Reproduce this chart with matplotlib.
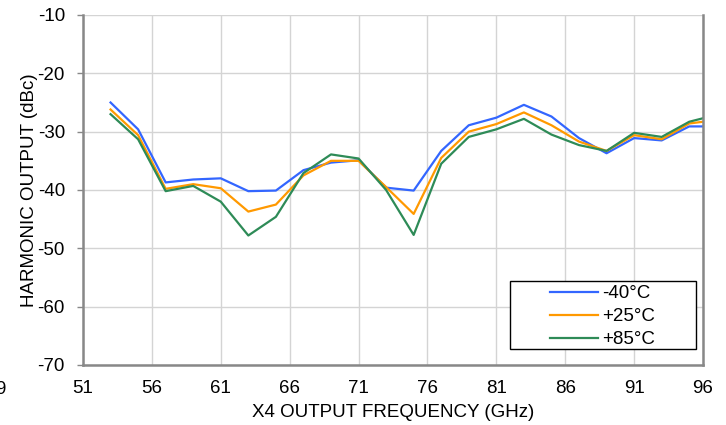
import matplotlib
matplotlib.use("Agg")
import matplotlib.pyplot as plt
from matplotlib.patches import Rectangle

plt.rcParams['font.family'] = ['Liberation Sans', 'DejaVu Sans']
plt.rcParams['axes.unicode_minus'] = False

# X4 output frequency (GHz)
freq = [53, 55, 57, 59, 61, 63, 65, 67, 69, 71, 73, 75, 77, 79, 81, 83, 85, 87, 89, 91, 93, 95, 96]

# harmonic output (dBc) per temperature
h_m40 = [-25.0, -29.6, -38.7, -38.2, -38.0, -40.2, -40.1, -36.6, -35.3, -34.9, -39.6, -40.1,
         -33.3, -28.9, -27.6, -25.4, -27.4, -31.1, -33.7, -31.1, -31.5, -29.1, -29.1]
h_p25 = [-26.2, -30.6, -39.8, -39.0, -39.7, -43.7, -42.5, -37.5, -35.0, -35.0, -39.5, -44.1,
         -34.5, -30.0, -28.7, -26.7, -28.9, -31.7, -33.3, -30.6, -31.3, -28.6, -28.3]
h_p85 = [-27.0, -31.3, -40.2, -39.3, -42.0, -47.8, -44.6, -37.1, -33.9, -34.6, -40.0, -47.7,
         -35.5, -30.9, -29.6, -27.8, -30.5, -32.3, -33.3, -30.2, -30.9, -28.3, -27.7]

labels = ['-40°C', '+25°C', '+85°C']
colors = ['#3366ff', '#ff9900', '#2e8b57']

W, H = 726, 425
fs = 13.5
fig = plt.figure(figsize=(W / 100, H / 100), dpi=100)
ax = fig.add_axes([83 / W, 1 - 365 / H, 620 / W, 350 / H])

for y, lab, c in zip([h_m40, h_p25, h_p85], labels, colors):
    ax.plot(freq, y, color=c, lw=1.6, label=lab)

ax.set_xlim(51, 96)
ax.set_ylim(-70, -10)
ax.set_xticks(range(51, 97, 5))
ax.set_yticks(range(-70, -9, 10))
ax.grid(True, color='#d4d4d4', lw=1.0)
ax.set_axisbelow(True)

for s in ['left', 'right', 'bottom']:
    ax.spines[s].set_color('#888888')
    ax.spines[s].set_linewidth(1.8)
ax.spines['top'].set_visible(False)
ax.tick_params(axis='y', length=4, width=1, color='#888888', labelsize=fs, pad=9)
ax.tick_params(axis='x', length=0, labelsize=fs, pad=11)

ax.set_xlabel('X4 OUTPUT FREQUENCY (GHz)', fontsize=fs, labelpad=5)
ax.set_ylabel('HARMONIC OUTPUT (dBc)', fontsize=fs, labelpad=0)

# clipped tick label at the left edge of the original image
fig.text(6 / W, 1 - 389 / H, '9', fontsize=fs, ha='right', va='center')

# legend: frameless entries plus a box drawn around them
leg = ax.legend(loc='upper left', bbox_to_anchor=(550 / W, 1 - 285 / H),
                bbox_transform=fig.transFigure, frameon=False, fontsize=fs,
                handlelength=2.55, handletextpad=0.22, labelspacing=0.32,
                borderpad=0, borderaxespad=0)
leg.set_zorder(6)
box = Rectangle((510 / W, 1 - 349 / H), 186 / W, 68 / H, transform=fig.transFigure,
                facecolor='white', edgecolor='black', lw=1.0, zorder=5, clip_on=False)
ax.add_patch(box)

fig.savefig('out.png', dpi=100)
